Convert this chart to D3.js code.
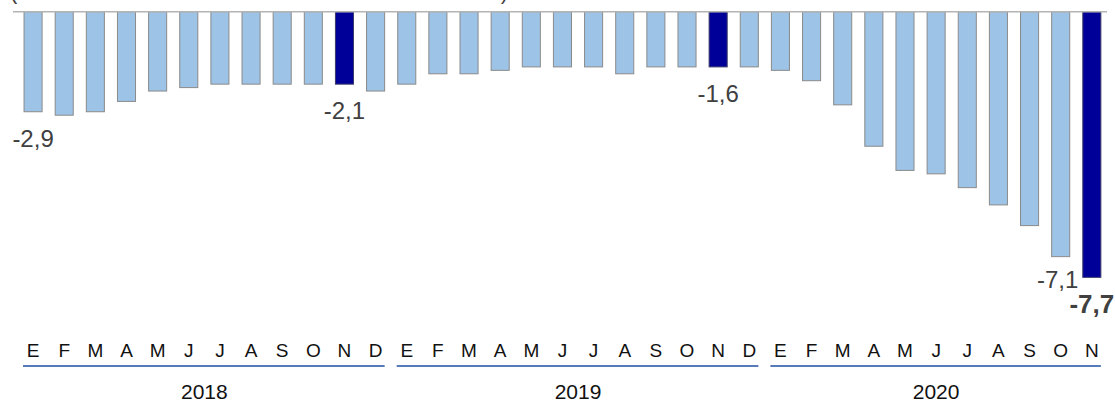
<!DOCTYPE html>
<html>
<head>
<meta charset="utf-8">
<script src="https://cdn.jsdelivr.net/npm/d3@7/dist/d3.min.js"></script>
<style>
  html, body { margin: 0; padding: 0; background: #fff; }
  svg { display: block; font-family: "Liberation Sans", Arial, sans-serif; }
</style>
</head>
<body>
<svg id="chart" width="1115" height="400"></svg>
<script>
// ---- data ----
const years = ["2018", "2019", "2020"];
const monthLetters = ["E","F","M","A","M","J","J","A","S","O","N","D"];
const values2018 = [-2.9, -3.0, -2.9, -2.6, -2.3, -2.2, -2.1, -2.1, -2.1, -2.1, -2.1, -2.3];
const values2019 = [-2.1, -1.8, -1.8, -1.7, -1.6, -1.6, -1.6, -1.8, -1.6, -1.6, -1.6, -1.6];
const values2020 = [-1.7, -2.0, -2.7, -3.9, -4.6, -4.7, -5.1, -5.6, -6.2, -7.1, -7.7];
const highlightMonths = ["2018-11", "2019-11", "2020-11"];
const labelledPoints = ["2018-1", "2018-11", "2019-11", "2020-10", "2020-11"];
const boldLabel = "2020-11";
const subtitle = "(en % del PIB. Acumulado 12 meses)";

// ---- build table ----
const seriesByYear = [values2018, values2019, values2020];
const rows = [];
seriesByYear.forEach((vals, yi) => {
  vals.forEach((v, mi) => {
    rows.push({ key: years[yi] + "-" + (mi + 1), year: years[yi], month: monthLetters[mi], value: v });
  });
});

const svg = d3.select("#chart");

const x = d3.scaleBand()
  .domain(rows.map(d => d.key))
  .range([17.5, 1107.4])
  .paddingInner(0.42)
  .paddingOuter(0.21);

const y = d3.scaleLinear().domain([-8, 0]).range([287.7, 11.7]);

// clipped subtitle at top
svg.append("text")
  .attr("x", 10)
  .attr("y", -1.5)
  .attr("font-size", 22)
  .attr("fill", "#404040")
  .attr("textLength", 498)
  .attr("lengthAdjust", "spacing")
  .text(subtitle);

// bars
svg.append("g").selectAll("rect")
  .data(rows)
  .join("rect")
  .attr("x", d => x(d.key))
  .attr("width", x.bandwidth())
  .attr("y", d => y(0))
  .attr("height", d => y(d.value) - y(0))
  .attr("fill", d => highlightMonths.includes(d.key) ? "#000099" : "#9dc3e6")
  .attr("stroke", d => highlightMonths.includes(d.key) ? "#3a3a6a" : "#8a8a8a")
  .attr("stroke-width", 1);

// zero line
svg.append("line")
  .attr("x1", 13).attr("x2", 1107)
  .attr("y1", y(0)).attr("y2", y(0))
  .attr("stroke", "#b4b4b4")
  .attr("stroke-width", 1.5);

// value labels
const fmt = v => d3.format(".1f")(v).replace(".", ",").replace("−", "-");
const labelRows = rows.filter(d => labelledPoints.includes(d.key));
svg.append("g").selectAll("text")
  .data(labelRows)
  .join("text")
  .attr("x", d => x(d.key) + x.bandwidth() / 2 + (d.key === "2020-10" ? -3 : 0))
  .attr("y", d => y(d.value) + (d.key === boldLabel ? 35.5 : (d.key === "2020-10" ? 31 : 35)))
  .attr("text-anchor", "middle")
  .attr("font-size", d => d.key === boldLabel ? 26 : 24)
  .attr("font-weight", d => d.key === boldLabel ? "bold" : "normal")
  .attr("fill", "#404040")
  .text(d => fmt(d.value));

// month axis
const xAxis = d3.axisBottom(x).tickSize(0).tickFormat(k => rows.find(r => r.key === k).month);
const ax = svg.append("g").attr("transform", "translate(0,340)").call(xAxis);
ax.select(".domain").remove();
ax.selectAll("text")
  .attr("font-size", 19)
  .attr("font-family", "Liberation Sans, Arial, sans-serif")
  .attr("fill", "#111")
  .attr("dy", 0)
  .attr("y", 17);

// year underlines and labels
years.forEach(yr => {
  const keys = rows.filter(r => r.year === yr).map(r => r.key);
  const x0 = x(keys[0]) - 1;
  const x1 = x(keys[keys.length - 1]) + x.bandwidth();
  svg.append("line")
    .attr("x1", x0).attr("x2", x1)
    .attr("y1", 366).attr("y2", 366)
    .attr("stroke", "#1f4ea0")
    .attr("stroke-width", 1.5);
  svg.append("text")
    .attr("x", (x(keys[0]) + x(keys[keys.length - 1]) + x.bandwidth()) / 2)
    .attr("y", 399)
    .attr("text-anchor", "middle")
    .attr("font-size", 21)
    .attr("fill", "#111")
    .text(yr);
});
</script>
</body>
</html>
